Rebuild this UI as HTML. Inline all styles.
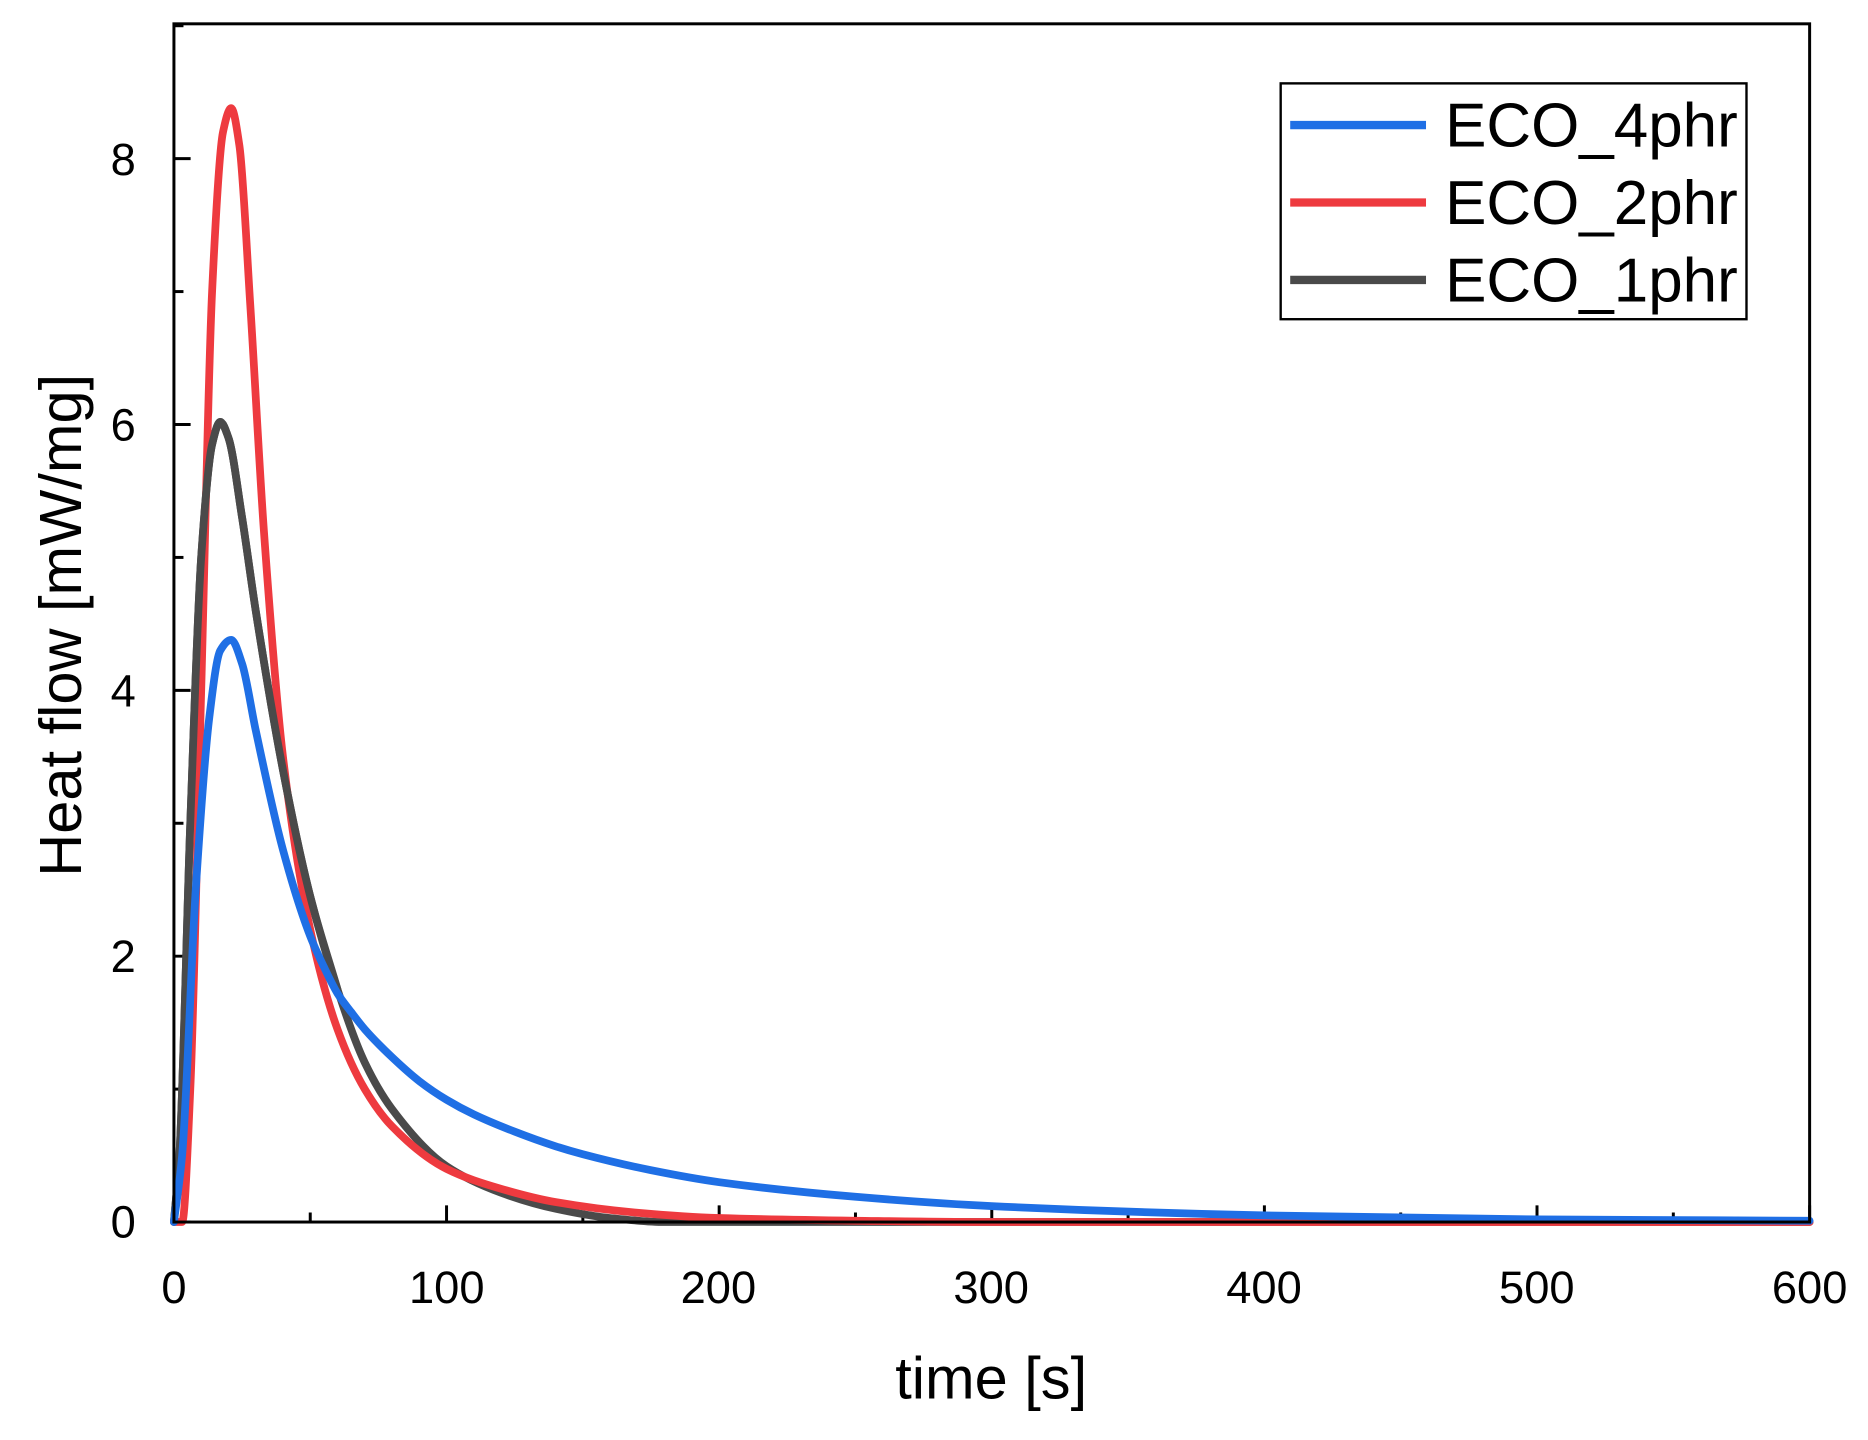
<!DOCTYPE html>
<html><head><meta charset="utf-8"><style>
html,body{margin:0;padding:0;background:#fff;}
svg{display:block;}
text{font-family:"Liberation Sans",Arial,sans-serif;fill:#000;}
</style></head><body>
<svg id="s" width="1868" height="1440" viewBox="0 0 1568 1209" preserveAspectRatio="none" xmlns="http://www.w3.org/2000/svg">
<rect x="0" y="0" width="1568" height="1209" fill="#fff"/>
<g id="ticks" stroke="#000" stroke-width="2.5"></g>
<g id="curves" fill="none" stroke-width="6.5" stroke-linejoin="round" stroke-linecap="round"></g>
<rect x="146" y="20" width="1373" height="1006" fill="none" stroke="#000" stroke-width="2.5"/>
<g font-size="38" text-anchor="middle">
<text x="146" y="1094">0</text><text x="375" y="1094">100</text><text x="603" y="1094">200</text>
<text x="832" y="1094">300</text><text x="1061" y="1094">400</text><text x="1290" y="1094">500</text><text x="1519" y="1094">600</text>
</g>
<g font-size="38" text-anchor="end">
<text x="114" y="1039">0</text><text x="114" y="816">2</text><text x="114" y="593">4</text>
<text x="114" y="370">6</text><text x="114" y="147">8</text>
</g>
<text x="832" y="1174" font-size="50" text-anchor="middle">time [s]</text>
<text transform="translate(68,525) rotate(-90)" font-size="50" text-anchor="middle">Heat flow [mW/mg]</text>
<rect x="1075" y="70" width="391" height="198" fill="#fff" stroke="#000" stroke-width="2"/>
<line x1="1083" y1="105" x2="1197" y2="105" stroke="#1f6fe5" stroke-width="7"/>
<line x1="1083" y1="170" x2="1197" y2="170" stroke="#ee3a3f" stroke-width="7"/>
<line x1="1083" y1="235" x2="1197" y2="235" stroke="#4a4a4a" stroke-width="7"/>
<g font-size="52"><text x="1213" y="123">ECO_4phr</text><text x="1213" y="188">ECO_2phr</text><text x="1213" y="253">ECO_1phr</text></g>
</svg>
<script>
var X=function(t){return 146+t*1373/600;},Y=function(v){return 1026-v*111.6;};
var tk=document.getElementById('ticks'),h='';
for(var t=0;t<=600;t+=50){var x=X(t),l=(t%100==0)?14:8;h+='<line x1="'+x+'" y1="1026" x2="'+x+'" y2="'+(1026-l)+'"/>';}
for(var v=0;v<=9;v++){var y=Y(v),l=(v%2==0)?14:8;h+='<line x1="146" y1="'+y+'" x2="'+(146+l)+'" y2="'+y+'"/>';}
tk.innerHTML=h;
function path(p){
 var n=p.length,d=[],m=[];
 for(var i=0;i<n-1;i++)d.push((p[i+1][1]-p[i][1])/(p[i+1][0]-p[i][0]));
 m[0]=d[0];m[n-1]=d[n-2];
 for(var i=1;i<n-1;i++){ if(d[i-1]*d[i]<=0)m[i]=0; else {var h0=p[i][0]-p[i-1][0],h1=p[i+1][0]-p[i][0];var w1=2*h1+h0,w2=h1+2*h0;m[i]=(w1+w2)/(w1/d[i-1]+w2/d[i]);}}
 var s='M'+X(p[0][0])+','+Y(p[0][1]);
 for(var i=0;i<n-1;i++){var hh=p[i+1][0]-p[i][0];
  var c1x=p[i][0]+hh/3,c1y=p[i][1]+m[i]*hh/3,c2x=p[i+1][0]-hh/3,c2y=p[i+1][1]-m[i+1]*hh/3;
  s+=' C'+X(c1x)+','+Y(c1y)+' '+X(c2x)+','+Y(c2y)+' '+X(p[i+1][0])+','+Y(p[i+1][1]);}
 return s;}
var red=[[0,0],[3,0],[6,1],[10,4],[14,7],[18,8.2],[21,8.38],[24,8.1],[28,6.9],[33,5.2],[40,3.5],[50,2.2],[60,1.45],[70,1.0],[80,0.72],[100,0.4],[120,0.25],[140,0.15],[170,0.07],[200,0.03],[250,0.01],[300,0],[600,0]];
var gray=[[0,0],[2,0.5],[6,3],[10,5],[14,5.85],[17,6.02],[20,5.9],[25,5.3],[30,4.6],[40,3.4],[50,2.45],[60,1.75],[70,1.2],[80,0.85],[100,0.42],[120,0.22],[140,0.1],[160,0.03],[180,0],[600,0]];
var blue=[[0,0],[3,0.5],[8,2.5],[13,3.8],[17,4.3],[21,4.38],[25,4.2],[30,3.7],[40,2.8],[50,2.15],[55,1.92],[60,1.72],[65,1.58],[70,1.45],[80,1.24],[90,1.06],[100,0.92],[110,0.81],[125,0.68],[140,0.57],[150,0.51],[175,0.39],[200,0.3],[250,0.19],[300,0.12],[400,0.05],[500,0.02],[600,0.01]];
document.getElementById('curves').innerHTML=
'<path stroke="#4a4a4a" d="'+path(gray)+'"/><path stroke="#ee3a3f" d="'+path(red)+'"/><path stroke="#4a4a4a" d="'+path(gray.slice(0,12))+'"/><path stroke="#1f6fe5" d="'+path(blue)+'"/>';
</script>
</body></html>
